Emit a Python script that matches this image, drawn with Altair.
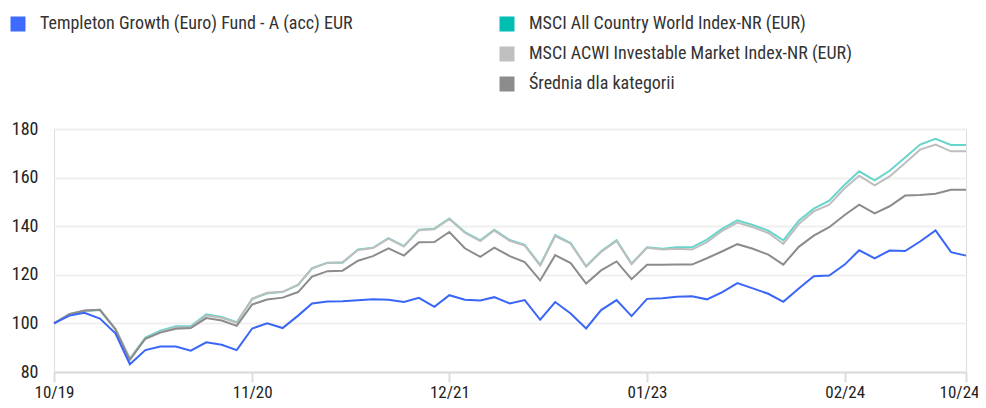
import altair as alt
import pandas as pd

months = pd.date_range("2019-10-01", "2024-10-01", freq="MS").strftime("%Y-%m-%d").tolist()

fund_name = "Templeton Growth (Euro) Fund - A (acc) EUR"
bench_names = [
    "MSCI All Country World Index-NR (EUR)",
    "MSCI ACWI Investable Market Index-NR (EUR)",
    "Średnia dla kategorii",
]

fund = [100, 103.2, 104.4, 102.0, 95.9, 83.2, 89.0, 90.5, 90.5, 88.8,
        92.2, 91.2, 89.0, 97.9, 100.0, 98.1, 103.2, 108.2, 109.0, 109.1,
        109.5, 109.9, 109.7, 108.8, 110.5, 106.8, 111.6, 109.7, 109.4, 110.8,
        108.2, 109.6, 101.5, 108.8, 104.1, 97.9, 105.5, 109.6, 103.0, 110.1,
        110.4, 111.0, 111.2, 109.9, 112.9, 116.6, 114.4, 112.2, 108.9, 114.4,
        119.4, 119.7, 124.2, 130.1, 126.8, 130.0, 129.8, 133.7, 138.3, 129.3,
        127.9]

acwi = [100, 103.8, 105.0, 105.5, 97.8, 85.5, 94.2, 97.0, 98.8, 98.8,
        103.7, 102.6, 100.5, 110.0, 112.4, 112.9, 115.8, 122.8, 125.0, 125.0,
        130.4, 131.1, 135.1, 131.8, 138.6, 139.0, 143.2, 137.6, 134.2, 138.5,
        134.3, 132.3, 124.1, 136.3, 133.1, 123.5, 129.7, 134.2, 124.6, 131.3,
        130.7, 131.3, 131.3, 134.5, 139.0, 142.4, 140.5, 138.2, 134.2, 142.3,
        147.2, 150.5, 157.1, 162.6, 158.9, 162.8, 168.3, 173.6, 176.0, 173.4,
        173.4]

imi = [100, 103.9, 105.2, 105.6, 97.9, 85.3, 93.8, 96.5, 98.3, 98.4,
       103.2, 102.3, 100.2, 110.2, 112.6, 113.0, 115.9, 122.6, 124.9, 125.2,
       130.2, 131.0, 134.9, 131.6, 138.3, 138.7, 143.0, 137.3, 133.9, 138.2,
       134.0, 132.0, 123.8, 135.9, 132.8, 123.3, 129.4, 133.9, 124.4, 131.1,
       130.4, 130.7, 130.4, 133.4, 138.1, 141.5, 139.6, 137.2, 132.7, 140.9,
       146.1, 148.9, 155.6, 160.8, 156.8, 160.5, 166.0, 171.5, 173.6, 170.8,
       170.8]

category = [100, 103.8, 105.3, 105.6, 97.5, 85.0, 93.7, 96.2, 97.8, 98.1,
            102.2, 101.2, 99.0, 107.8, 109.8, 110.6, 112.9, 119.3, 121.5, 121.7,
            125.8, 127.7, 130.9, 127.9, 133.4, 133.5, 137.6, 130.9, 127.4, 131.2,
            127.7, 125.2, 117.7, 128.1, 124.8, 116.4, 121.8, 125.5, 118.2, 124.1,
            124.1, 124.2, 124.2, 126.8, 129.7, 132.6, 130.7, 128.3, 124.2, 131.5,
            136.1, 139.6, 144.6, 148.9, 145.3, 148.2, 152.6, 152.8, 153.4, 155.0,
            155.0]

tick_dates = ["2019-10-01", "2020-11-01", "2021-12-01", "2023-01-01", "2024-02-01", "2024-10-01"]
y_ticks = [80, 100, 120, 140, 160, 180]

FONT = "Roboto Condensed, Roboto, sans-serif"

fund_df = pd.DataFrame({"date": months, "value": fund, "series": fund_name})
bench_df = pd.concat([
    pd.DataFrame({"date": months, "value": acwi, "series": bench_names[0]}),
    pd.DataFrame({"date": months, "value": imi, "series": bench_names[1]}),
    pd.DataFrame({"date": months, "value": category, "series": bench_names[2]}),
], ignore_index=True)

def dt(s):
    y, m, d = s.split("-")
    return alt.DateTime(year=int(y), month=int(m), date=int(d), utc=True)

last_ms = int(pd.Timestamp(tick_dates[-1], tz="UTC").value // 10**6)

x_enc = alt.X(
    "date:T",
    scale=alt.Scale(type="utc", domain=[dt(months[0]), dt(months[-1])]),
    axis=alt.Axis(
        values=[dt(s) for s in tick_dates], format="%m/%y", title=None,
        grid=False, domainColor="#dcdcdc", domainWidth=2, tickColor="#dcdcdc",
        tickWidth=2, tickSize=10, labelPadding=2, labelFont=FONT, labelFontSize=17,
        labelColor="#222222", labelFlush=False, labelOverlap=False,
        labelOffset={"condition": {"test": f"datum.value >= {last_ms}", "value": -7}, "value": 0},
    ),
)
y_enc = alt.Y(
    "value:Q",
    scale=alt.Scale(domain=[80, 180], nice=False, zero=False),
    axis=alt.Axis(
        values=y_ticks, title=None, domain=False, ticks=False, labelPadding=16,
        gridColor="#f0f0f0", gridWidth=2, labelFont=FONT, labelFontSize=18,
        labelColor="#222222",
    ),
)

def legend(x):
    return alt.Legend(
        title=None, orient="none", legendX=x, legendY=-114, symbolType="square",
        symbolSize=225, symbolStrokeWidth=0, symbolOpacity=1, labelFont=FONT,
        labelFontSize=18, labelColor="#333333", labelOffset=13, labelLimit=600,
        rowPadding=12, padding=0,
    )

bench_line = alt.Chart(bench_df).mark_line(strokeWidth=2).encode(
    x=x_enc, y=y_enc,
    stroke=alt.Stroke("series:N", scale=alt.Scale(domain=bench_names,
                      range=["#66d6cc", "#bebebe", "#8c8c8c"]), legend=None),
)
bench_sq = alt.Chart(bench_df).mark_square(opacity=0, size=0).encode(
    x=x_enc, y=y_enc,
    fill=alt.Fill("series:N", scale=alt.Scale(domain=bench_names,
                  range=["#00bfb2", "#c0c0c0", "#8c8c8c"]), legend=legend(444)),
)
fund_line = alt.Chart(fund_df).mark_line(strokeWidth=2).encode(
    x=x_enc, y=y_enc,
    stroke=alt.Stroke("series:N", scale=alt.Scale(domain=[fund_name], range=["#3a66f7"]), legend=None),
)
fund_sq = alt.Chart(fund_df).mark_square(opacity=0, size=0).encode(
    x=x_enc, y=y_enc,
    fill=alt.Fill("series:N", scale=alt.Scale(domain=[fund_name], range=["#3d6bff"]), legend=legend(-45)),
)

chart = alt.layer(bench_line, bench_sq, fund_line, fund_sq).resolve_scale(
    stroke="independent", fill="independent"
).properties(
    width=912, height=243,
    autosize=alt.AutoSizeParams(type="none"),
    padding={"left": 46, "top": 121, "right": 12, "bottom": 28},
).configure_view(stroke=None).configure(background="white")

chart.save("out.html", embed_options={"renderer": "svg", "actions": False})
